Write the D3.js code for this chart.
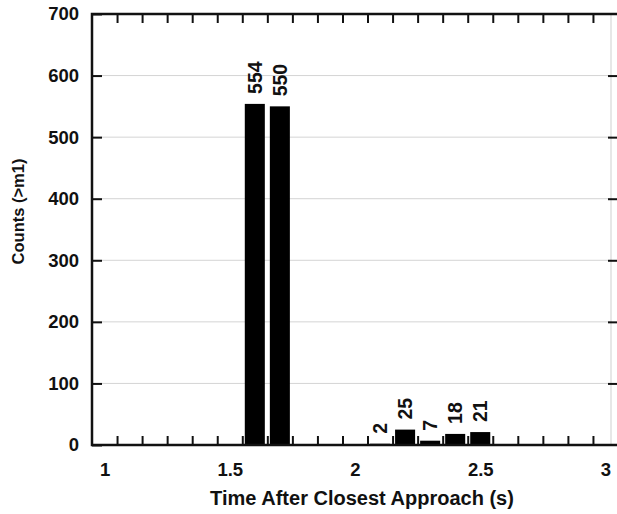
<!DOCTYPE html>
<html>
<head>
<meta charset="utf-8">
<script src="https://cdn.jsdelivr.net/npm/d3@7"></script>
<style>
  body { margin: 0; background: #fff; }
  svg text { font-family: "Liberation Sans", Arial, sans-serif; font-weight: bold; fill: #111; }
</style>
</head>
<body>
<svg id="chart" width="617" height="514"></svg>
<script>
// bin centres (s) and counts
const binCenters = [1.6, 1.7, 2.1, 2.2, 2.3, 2.4, 2.5];
const counts = [554, 550, 2, 25, 7, 18, 21];

const xTickLabels = [1, 1.5, 2, 2.5, 3];
const yTicks = [0, 100, 200, 300, 400, 500, 600, 700];
// minor ticks on bin edges
const binEdges = d3.range(1.05, 2.96, 0.1).map(v => +v.toFixed(2));

const svg = d3.select("#chart");
const plotL = 92, plotR = 618, plotT = 14, plotB = 445;

const x = d3.scaleLinear().domain([0.95, 3.05]).range([plotL, plotR]);
const y = d3.scaleLinear().domain([0, 700]).range([plotB, plotT]);

// horizontal grid
svg.append("g")
    .selectAll("line")
    .data(yTicks.filter(d => d > 0 && d < 700))
    .join("line")
    .attr("x1", plotL).attr("x2", plotR - 6)
    .attr("y1", d => y(d)).attr("y2", d => y(d))
    .attr("stroke", "#d4d4d4").attr("stroke-width", 1);

// light right border
svg.append("line")
    .attr("x1", 611).attr("x2", 611)
    .attr("y1", plotT).attr("y2", plotB)
    .attr("stroke", "#cfcfcf").attr("stroke-width", 1);

const barData = binCenters.map((c, i) => ({ c, v: counts[i] }));

// bars
svg.append("g")
    .selectAll("rect")
    .data(barData)
    .join("rect")
    .attr("x", d => x(d.c - 0.04))
    .attr("width", d => x(d.c + 0.04) - x(d.c - 0.04))
    .attr("y", d => y(d.v))
    .attr("height", d => plotB - y(d.v))
    .attr("fill", "#000");

// value labels, rotated
svg.append("g")
    .selectAll("text")
    .data(barData)
    .join("text")
    .attr("transform", d => `translate(${x(d.c) + 7},${y(d.v) - 10}) rotate(-90)`)
    .attr("font-size", 19.5)
    .text(d => d.v);

// bottom axis: labels only, minor ticks inward
const xAxis = d3.axisBottom(x).tickValues(xTickLabels).tickSize(0).tickPadding(18)
    .tickFormat(d3.format("~g"));
svg.append("g")
    .attr("transform", `translate(0,${plotB})`)
    .call(xAxis)
    .call(g => g.select(".domain").remove())
    .call(g => g.selectAll("text").attr("font-size", 18.5).attr("fill", "#111"));

const minorBottom = d3.axisTop(x).tickValues(binEdges).tickSize(9).tickFormat("");
svg.append("g")
    .attr("transform", `translate(0,${plotB})`)
    .call(minorBottom)
    .call(g => g.select(".domain").remove())
    .call(g => g.selectAll("line").attr("stroke", "#111").attr("stroke-width", 2));

const minorTop = d3.axisBottom(x).tickValues(binEdges).tickSize(9).tickFormat("");
svg.append("g")
    .attr("transform", `translate(0,${plotT})`)
    .call(minorTop)
    .call(g => g.select(".domain").remove())
    .call(g => g.selectAll("line").attr("stroke", "#111").attr("stroke-width", 2));

// left axis, ticks pointing inward
const yAxis = d3.axisLeft(y).tickValues(yTicks).tickSize(-10).tickPadding(13);
svg.append("g")
    .attr("transform", `translate(${plotL},0)`)
    .call(yAxis)
    .call(g => g.select(".domain").remove())
    .call(g => g.selectAll("line").attr("stroke", "#111").attr("stroke-width", 2))
    .call(g => g.selectAll("text").attr("font-size", 18.5).attr("fill", "#111"));

// right-side ticks
const yRight = d3.axisRight(y).tickValues(yTicks.filter(d => d > 0 && d < 700)).tickSize(-9).tickFormat("");
svg.append("g")
    .attr("transform", `translate(${plotR - 1},0)`)
    .call(yRight)
    .call(g => g.select(".domain").remove())
    .call(g => g.selectAll("line").attr("stroke", "#111").attr("stroke-width", 2));

// frame lines: left, top, bottom
svg.append("path")
    .attr("d", `M${plotR},${plotT}H${plotL}V${plotB}H${plotR}`)
    .attr("fill", "none").attr("stroke", "#111").attr("stroke-width", 2.5);

// axis titles
svg.append("text")
    .attr("x", 362).attr("y", 505)
    .attr("text-anchor", "middle").attr("font-size", 20)
    .text("Time After Closest Approach (s)");

svg.append("text")
    .attr("transform", `translate(23.5,${(plotT + plotB) / 2 - 18}) rotate(-90)`)
    .attr("text-anchor", "middle").attr("font-size", 16.5)
    .text("Counts (>m1)");
</script>
</body>
</html>
